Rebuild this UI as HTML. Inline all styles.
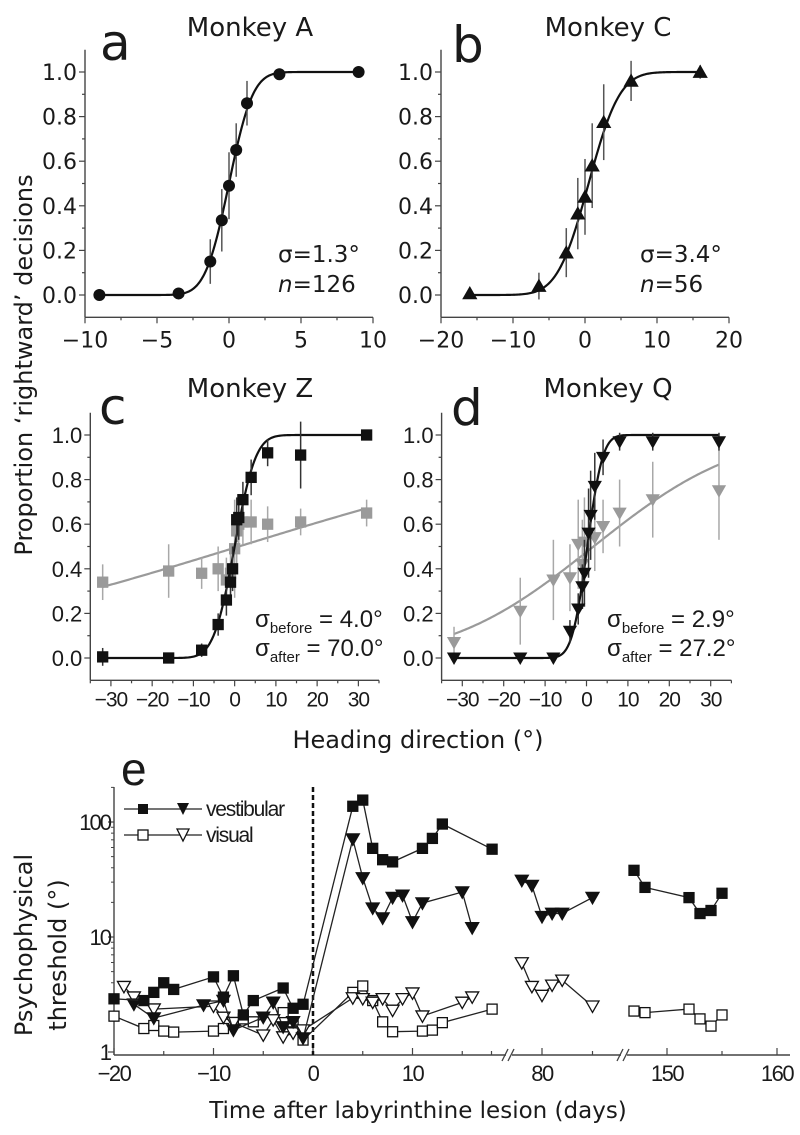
<!DOCTYPE html>
<html><head><meta charset="utf-8">
<style>
html,body{margin:0;padding:0;background:#fff;}
svg{display:block;}
text{font-family:"Liberation Sans",Arial,sans-serif;fill:#1a1a1a;}
.dv{font-family:"DejaVu Sans","Liberation Sans",sans-serif;}
</style></head>
<body>
<svg id="fig" width="800" height="1135" viewBox="0 0 800 1135" xmlns="http://www.w3.org/2000/svg">
<g id="layer"></g>
</svg>
<script>
// ---------- Panel a (Monkey A) ----------
const headA = [-9,-3.5,-1.3,-0.5,0,0.5,1.25,3.5,9];
const propA = [0,0.007,0.15,0.335,0.49,0.65,0.86,0.99,1.0];
const errA  = [0,0,0.1,0.14,0.15,0.12,0.1,0,0];
const fitA  = [0, 1.3];
// ---------- Panel b (Monkey C) ----------
const headB = [-16,-6.4,-2.6,-1,0,1,2.6,6.4,16];
const propB = [0.007,0.04,0.19,0.365,0.44,0.58,0.775,0.96,1.0];
const errB  = [0.02,0.06,0.11,0.16,0.17,0.19,0.17,0.09,0.03];
const fitB  = [0.5, 3.4];
// ---------- Panel c (Monkey Z) ----------
const headCb = [-32,-16,-8,-4,-2,-1,-0.5,0.5,1,2,4,8,16,32];
const propCb = [0.005,0,0.035,0.15,0.26,0.34,0.40,0.62,0.63,0.71,0.81,0.92,0.91,1.0];
const errCb  = [0.04,0,0.03,0.05,0.07,0.08,0.1,0.1,0.1,0.08,0.08,0.06,0.15,0];
const headCg = [-32,-16,-8,-4,-2,-1,0,0.5,1,2,4,8,16,32];
const propCg = [0.34,0.39,0.38,0.40,0.35,0.38,0.49,0.57,0.60,0.61,0.61,0.60,0.61,0.65];
const errCg  = [0.08,0.12,0.07,0.1,0.1,0.12,0.22,0.15,0.1,0.1,0.1,0.08,0.06,0.06];
const fitCb  = [0, 4.0];
const fitCg  = [1, 70];
// ---------- Panel d (Monkey Q) ----------
const headDb = [-32,-16,-8,-4,-2,-1,-0.5,0.5,1,2,4,8,16,32];
const propDb = [0,0,0,0.12,0.22,0.32,0.38,0.56,0.64,0.77,0.90,0.97,0.97,0.97];
const errDb  = [0,0,0,0.05,0.07,0.1,0.15,0.2,0.2,0.15,0.08,0.04,0.04,0.04];
const headDg = [-32,-16,-8,-4,-2,-1,-0.5,2,4,8,16,32];
const propDg = [0.07,0.21,0.35,0.36,0.51,0.42,0.52,0.54,0.59,0.65,0.71,0.75];
const errDg  = [0.07,0.15,0.18,0.15,0.2,0.2,0.2,0.15,0.12,0.15,0.17,0.22];
const fitDb  = [0.2, 2.9];
const fitDg  = [1.7, 27.2];
// ---------- Panel e (thresholds) ----------
const vestSqDays1 = [-20,-17,-16,-15,-14,-10,-9,-8,-7,-6,-3,-2,-1,4,5,6,7,8,11,12,13,18];
const vestSqVals1 = [2.9,2.8,3.3,4.0,3.5,4.5,3.0,4.6,2.1,2.8,3.6,2.4,2.6,137,155,59,47,45,59,72,96,58];
const vestSqDays3 = [147,148,152,153,154,155];
const vestSqVals3 = [38,27,22,16,17,24];
const vestTriDays1 = [-18,-16,-11,-9,-8,-5,-4,-3,-2,-1,4,5,6,7,8,9,10,11,15,16];
const vestTriVals1 = [2.6,1.97,2.56,2.8,1.55,2.0,2.7,1.65,1.83,1.32,71,32.6,17.8,14.6,22,23,13.5,19.7,24.6,12];
const vestTriDays2 = [78,79,80,81,82,85];
const vestTriVals2 = [31,28,15,16,16,22];
const visSqDays1 = [-20,-17,-16,-15,-14,-10,-9,-7,-6,-3,-2,-1,4,5,6,7,8,11,12,13,18];
const visSqVals1 = [2.05,1.6,1.7,1.52,1.49,1.52,1.6,1.94,1.83,2.2,1.83,1.27,3.3,3.75,2.8,1.83,1.5,1.52,1.55,1.8,2.36];
const visSqDays3 = [147,148,152,153,154,155];
const visSqVals3 = [2.27,2.2,2.36,1.94,1.68,2.1];
const visTriDays1 = [-19,-18,-16,-10,-9,-8,-5,-4,-3,-2,-1,4,5,6,7,8,9,10,11,15,16];
const visTriVals1 = [3.7,3.0,2.36,2.5,2.0,1.8,1.4,1.9,1.35,1.46,1.55,2.95,2.9,2.7,2.9,2.3,2.9,3.25,2.05,2.7,3.0];
const visTriDays2 = [78,79,80,81,82,85];
const visTriVals2 = [5.95,3.7,3.1,3.8,4.2,2.5];
const eXTicks = ["−20","−10","0","10","80","150","160"];
const eXTickDays = [-20,-10,0,10,80,150,160];
const eYTicks = ["1","10","100"];
const eYTickVals = [1,10,100];

const NS = "http://www.w3.org/2000/svg";
const layer = document.getElementById("layer");
function mk(tag, attrs, parent){
  const e = document.createElementNS(NS, tag);
  for (const k in attrs) e.setAttribute(k, attrs[k]);
  (parent||layer).appendChild(e);
  return e;
}
function erf(x){const s=x<0?-1:1;x=Math.abs(x);const t=1/(1+0.3275911*x);
  const y=1-(((((1.061405429*t-1.453152027)*t)+1.421413741)*t-0.284496736)*t+0.254829592)*t*Math.exp(-x*x);return s*y;}
function cdf(x,mu,s){return 0.5*(1+erf((x-mu)/(s*Math.SQRT2)));}

function marker(type, cx, cy, fill, stroke, size, parent){
  let e;
  const h=size/2;
  if(type==="circle"){ e=mk("circle",{cx:cx,cy:cy,r:h,fill:fill},parent); }
  else if(type==="square"){ e=mk("rect",{x:cx-h,y:cy-h,width:size,height:size,fill:fill,stroke:stroke,"stroke-width":1.3},parent); }
  else if(type==="up"){ e=mk("polygon",{points:`${cx-h},${cy+h*0.8} ${cx+h},${cy+h*0.8} ${cx},${cy-h*0.95}`,fill:fill,stroke:stroke,"stroke-width":1.3},parent); }
  else { e=mk("polygon",{points:`${cx-h},${cy-h*0.8} ${cx+h},${cy-h*0.8} ${cx},${cy+h*0.95}`,fill:fill,stroke:stroke,"stroke-width":1.3},parent); }
  return e;
}

function panel(cfg){
  const g = mk("g",{});
  
  
  const X = v => cfg.px0 + (v-cfg.dx0)/(cfg.dx1-cfg.dx0)*(cfg.px1-cfg.px0);
  const Y = v => cfg.y0 - v*223;
  const axTop = Y(1.1), axBot = Y(-0.1);
  const ya = mk("line",{x1:cfg.px0,y1:axTop,x2:cfg.px0,y2:axBot,stroke:"#444","stroke-width":1.4},g);
  
  
  const xa = mk("line",{x1:cfg.px0,y1:axBot,x2:cfg.px1,y2:axBot,stroke:"#444","stroke-width":1.4},g);
  
  
  for(let v=0; v<=1.001; v+=0.1){
    const major = Math.round(v*10)%2===0;
    mk("line",{x1:cfg.px0-(major?6:3),y1:Y(v),x2:cfg.px0,y2:Y(v),stroke:"#444","stroke-width":1.2},g);
    if(major){
      const t = mk("text",{x:cfg.px0-8,y:Y(v)+8,"text-anchor":"end","font-size":cfg.yfs,"class":cfg.cls},g);
      t.textContent = v.toFixed(1);
      
      
    }
  }
  cfg.xticks.forEach((tv,i)=>{
    mk("line",{x1:X(tv),y1:axBot,x2:X(tv),y2:axBot+6,stroke:"#444","stroke-width":1.2},g);
    const t = mk("text",{x:X(tv),y:axBot+cfg.xlo,"text-anchor":"middle","font-size":cfg.xfs,"letter-spacing":cfg.ls,"class":cfg.cls},g);
    t.textContent = cfg.xlabels[i];
    
    
  });
  cfg.minor.forEach(tv=>{
    mk("line",{x1:X(tv),y1:axBot,x2:X(tv),y2:axBot+3,stroke:"#444","stroke-width":1.2},g);
  });
  cfg.series.forEach(s=>{
    let d="";
    for(let i=0;i<=200;i++){
      const xv = s.c0 + (s.c1-s.c0)*i/200;
      d += (i?"L":"M")+X(xv).toFixed(2)+","+Y(cdf(xv,s.fit[0],s.fit[1])).toFixed(2);
    }
    const p = mk("path",{d:d,fill:"none",stroke:s.color,"stroke-width":2.2},g);
    
    
    s.x.forEach((xv,i)=>{
      if(s.err[i]>0){
        const eb = mk("line",{x1:X(xv),y1:Y(s.y[i]-s.err[i]),x2:X(xv),y2:Y(s.y[i]+s.err[i]),stroke:s.ecolor,"stroke-width":1.5},g);
        
        
      }
    });
    s.x.forEach((xv,i)=>{
      const m = marker(s.type, X(xv), Y(s.y[i]), s.color, s.color, s.size, g);
      
      
    });
  });
}

panel({name:"panel-a",px0:85,px1:373,dx0:-10,dx1:10,y0:295,yfs:22,xfs:22,ls:0,xlo:30,cls:"dv",
  xticks:[-10,-5,0,5,10],xlabels:["−10","−5","0","5","10"],minor:[-7.5,-2.5,2.5,7.5],
  series:[{label:"monkey-a",x:headA,y:propA,err:errA,fit:fitA,c0:-9,c1:9,color:"#111",ecolor:"#555",type:"circle",size:12}]});
panel({name:"panel-b",px0:441,px1:729,dx0:-20,dx1:20,y0:295,yfs:22,xfs:22,ls:0,xlo:30,cls:"dv",
  xticks:[-20,-10,0,10,20],xlabels:["−20","−10","0","10","20"],minor:[-15,-5,5,15],
  series:[{label:"monkey-c",x:headB,y:propB,err:errB,fit:fitB,c0:-16,c1:16,color:"#111",ecolor:"#555",type:"up",size:13}]});
panel({name:"panel-c",px0:90.3,px1:379,dx0:-35,dx1:35,y0:658,yfs:22,xfs:21,ls:-1,xlo:26,cls:"",
  xticks:[-30,-20,-10,0,10,20,30],xlabels:["−30","−20","−10","0","10","20","30"],minor:[-35,-25,-15,-5,5,15,25,35],
  series:[
   {label:"after-lesion",x:headCg,y:propCg,err:errCg,fit:fitCg,c0:-32,c1:32,color:"#9a9a9a",ecolor:"#a8a8a8",type:"square",size:10},
   {label:"before-lesion",x:headCb,y:propCb,err:errCb,fit:fitCb,c0:-32,c1:32,color:"#111",ecolor:"#333",type:"square",size:10}]});
panel({name:"panel-d",px0:441.6,px1:731.4,dx0:-35,dx1:35,y0:658,yfs:22,xfs:21,ls:-1,xlo:26,cls:"",
  xticks:[-30,-20,-10,0,10,20,30],xlabels:["−30","−20","−10","0","10","20","30"],minor:[-35,-25,-15,-5,5,15,25,35],
  series:[
   {label:"after-lesion",x:headDg,y:propDg,err:errDg,fit:fitDg,c0:-32,c1:32,color:"#9a9a9a",ecolor:"#a8a8a8",type:"down",size:12},
   {label:"before-lesion",x:headDb,y:propDb,err:errDb,fit:fitDb,c0:-32,c1:32,color:"#111",ecolor:"#333",type:"down",size:12}]});

// ---------- panel e ----------
const ge = mk("g",{});


function xE(d){ if(d<=30) return 313+d*9.95; if(d<120) return 542+(d-80)*10.1; return 667+(d-150)*11; }
function yE(v){ return 1052 - Math.log10(v)*115; }
const eAxY = 1055;
let el;
el = mk("line",{x1:114,y1:787,x2:114,y2:eAxY,stroke:"#444","stroke-width":1.4},ge);


[[114,506],[512,621],[627,790]].forEach(s=>{
  el = mk("line",{x1:s[0],y1:eAxY,x2:s[1],y2:eAxY,stroke:"#444","stroke-width":1.4},ge);
  
  
});
[505,511,620,626].forEach(bx=>{
  mk("line",{x1:bx-3,y1:eAxY+6,x2:bx+3,y2:eAxY-6,stroke:"#444","stroke-width":1.3},ge);
});
eXTickDays.forEach((d,i)=>{
  mk("line",{x1:xE(d),y1:eAxY,x2:xE(d),y2:eAxY-7,stroke:"#444","stroke-width":1.2},ge);
  const t = mk("text",{x:xE(d),y:eAxY+26,"text-anchor":"middle","font-size":22,"letter-spacing":-1.5},ge);
  t.textContent = eXTicks[i];
  
  
});
[-15,-5,5,15,75,85,155].forEach(d=>{
  mk("line",{x1:xE(d),y1:eAxY,x2:xE(d),y2:eAxY-4,stroke:"#444","stroke-width":1.2},ge);
});
eYTickVals.forEach((v,i)=>{
  mk("line",{x1:108,y1:yE(v),x2:114,y2:yE(v),stroke:"#444","stroke-width":1.2},ge);
  const t = mk("text",{x:110,y:yE(v)+8,"text-anchor":"end","font-size":22,"letter-spacing":-2},ge);
  t.textContent = eYTicks[i];
  
  
});
[2,3,4,5,6,7,8,9,20,30,40,50,60,70,80,90,200].forEach(v=>{
  mk("line",{x1:111,y1:yE(v),x2:114,y2:yE(v),stroke:"#444","stroke-width":1},ge);
});
el = mk("line",{x1:313,y1:787,x2:313,y2:eAxY,stroke:"#111","stroke-width":2.5,"stroke-dasharray":"5,3"},ge);



function seriesE(days, vals, type, fill, name){
  const pts = days.map((d,i)=>xE(d).toFixed(1)+","+yE(vals[i]).toFixed(1)).join(" ");
  const pl = mk("polyline",{points:pts,fill:"none",stroke:"#222","stroke-width":1.3},ge);
  
  
  days.forEach((d,i)=>{
    const m = marker(type, xE(d), yE(vals[i]), fill, "#111", type==="square"?10:13, ge);
    
    
  });
}
seriesE(visSqDays1, visSqVals1, "square", "#fff", "visual-square");
seriesE(visSqDays3, visSqVals3, "square", "#fff", "visual-square");
seriesE(visTriDays1, visTriVals1, "down", "#fff", "visual-triangle");
seriesE(visTriDays2, visTriVals2, "down", "#fff", "visual-triangle");
seriesE(vestTriDays1, vestTriVals1, "down", "#111", "vestibular-triangle");
seriesE(vestTriDays2, vestTriVals2, "down", "#111", "vestibular-triangle");
seriesE(vestSqDays1, vestSqVals1, "square", "#111", "vestibular-square");
seriesE(vestSqDays3, vestSqVals3, "square", "#111", "vestibular-square");
</script>

<svg style="position:absolute;left:0;top:0" width="800" height="1135" xmlns="http://www.w3.org/2000/svg">
<text class="dv" x="250" y="36" text-anchor="middle" font-size="26">Monkey A</text>
<text class="dv" x="608" y="36" text-anchor="middle" font-size="26">Monkey C</text>
<text class="dv" x="250" y="397" text-anchor="middle" font-size="26">Monkey Z</text>
<text class="dv" x="608" y="397" text-anchor="middle" font-size="26">Monkey Q</text>
<text class="dv" x="100" y="60" font-size="50">a</text>
<text class="dv" x="452" y="62" font-size="50">b</text>
<text class="dv" x="99" y="424" font-size="50">c</text>
<text class="dv" x="451" y="425" font-size="50">d</text>
<text x="121" y="785" font-size="46">e</text>
<text class="dv" x="278" y="262" font-size="23">σ=1.3°</text>
<text class="dv" x="278" y="292" font-size="23"><tspan font-style="italic">n</tspan>=126</text>
<text class="dv" x="640" y="262" font-size="23">σ=3.4°</text>
<text class="dv" x="640" y="292" font-size="23"><tspan font-style="italic">n</tspan>=56</text>
<text x="255" y="627" font-size="24">σ<tspan font-size="15" dy="6">before</tspan><tspan dy="-6"> = 4.0°</tspan></text>
<text x="255" y="656" font-size="24">σ<tspan font-size="15" dy="6">after</tspan><tspan dy="-6"> = 70.0°</tspan></text>
<text x="607" y="627" font-size="24">σ<tspan font-size="15" dy="6">before</tspan><tspan dy="-6"> = 2.9°</tspan></text>
<text x="607" y="656" font-size="24">σ<tspan font-size="15" dy="6">after</tspan><tspan dy="-6"> = 27.2°</tspan></text>
<text class="dv" transform="translate(32,365) rotate(-90)" text-anchor="middle" font-size="24">Proportion ‘rightward’ decisions</text>
<text class="dv" x="418" y="748" text-anchor="middle" font-size="24">Heading direction (°)</text>
<text class="dv" transform="translate(32,945) rotate(-90)" text-anchor="middle" font-size="24">Psychophysical</text>
<text class="dv" transform="translate(66,955) rotate(-90)" text-anchor="middle" font-size="24">threshold (°)</text>
<text class="dv" x="418" y="1118" text-anchor="middle" font-size="23">Time after labyrinthine lesion (days)</text>
<g>
  <line x1="124" y1="809" x2="202" y2="809" stroke="#222" stroke-width="1.3"/>
  <rect x="138" y="804" width="10" height="10" fill="#111"/>
  <polygon points="177,803 189,803 183,815" fill="#111"/>
  <text x="206" y="816" font-size="21" letter-spacing="-1.2">vestibular</text>
  <line x1="124" y1="835" x2="202" y2="835" stroke="#222" stroke-width="1.3"/>
  <rect x="138" y="830" width="10" height="10" fill="#fff" stroke="#111" stroke-width="1.3"/>
  <polygon points="177,829 189,829 183,841" fill="#fff" stroke="#111" stroke-width="1.3"/>
  <text x="206" y="842" font-size="21" letter-spacing="-1.2">visual</text>
</g>
</svg>
</body></html>
